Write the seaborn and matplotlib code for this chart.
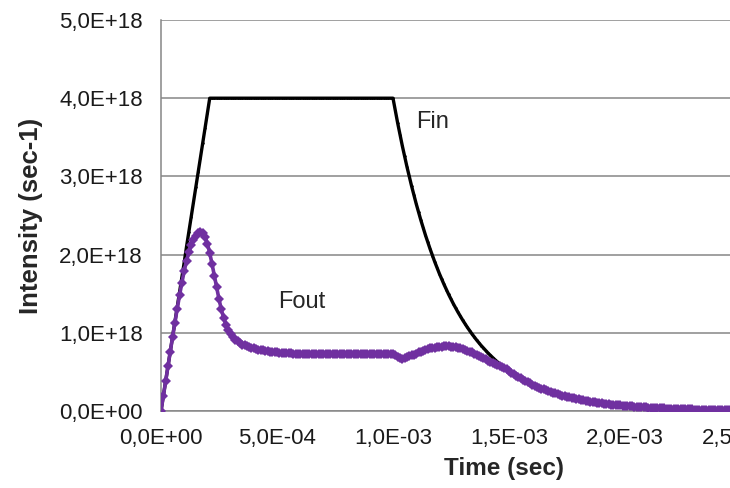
import numpy as np
import pandas as pd
import matplotlib
matplotlib.use("Agg")
import matplotlib.pyplot as plt
from matplotlib.ticker import FuncFormatter
import seaborn as sns

# ---------------- data (intensity in units of 1E18 sec-1) ----------------
time_step = 1e-5  # sec, regular sampling grid

fin = [
    0.00, 0.19, 0.38, 0.57, 0.76, 0.95, 1.14, 1.33, 1.52, 1.71,
    1.90, 2.10, 2.29, 2.48, 2.67, 2.86, 3.05, 3.24, 3.43, 3.62,
    3.81, 4.00, 4.00, 4.00, 4.00, 4.00, 4.00, 4.00, 4.00, 4.00,
    4.00, 4.00, 4.00, 4.00, 4.00, 4.00, 4.00, 4.00, 4.00, 4.00,
    4.00, 4.00, 4.00, 4.00, 4.00, 4.00, 4.00, 4.00, 4.00, 4.00,
    4.00, 4.00, 4.00, 4.00, 4.00, 4.00, 4.00, 4.00, 4.00, 4.00,
    4.00, 4.00, 4.00, 4.00, 4.00, 4.00, 4.00, 4.00, 4.00, 4.00,
    4.00, 4.00, 4.00, 4.00, 4.00, 4.00, 4.00, 4.00, 4.00, 4.00,
    4.00, 4.00, 4.00, 4.00, 4.00, 4.00, 4.00, 4.00, 4.00, 4.00,
    4.00, 4.00, 4.00, 4.00, 4.00, 4.00, 4.00, 4.00, 4.00, 4.00,
    4.000,
    3.839, 3.684, 3.535, 3.393, 3.256, 3.125, 2.999, 2.878, 2.762, 2.650,
    2.544, 2.441, 2.343, 2.248, 2.158, 2.071, 1.987, 1.907, 1.830, 1.756,
    1.686, 1.618, 1.553, 1.490, 1.430, 1.372, 1.317, 1.264, 1.213, 1.164,
    1.117, 1.072, 1.029, 0.987, 0.947, 0.909, 0.873, 0.837, 0.804, 0.771,
    0.740, 0.710, 0.682, 0.654, 0.628, 0.602, 0.578, 0.555, 0.532, 0.511,
    0.490, 0.470, 0.451, 0.433, 0.416, 0.399, 0.383, 0.367, 0.352, 0.338,
    0.325, 0.312, 0.299, 0.287, 0.275, 0.264, 0.254, 0.243, 0.234, 0.224,
    0.215, 0.206, 0.198, 0.190, 0.182, 0.175, 0.168, 0.161, 0.155, 0.149,
    0.143, 0.137, 0.131, 0.126, 0.121, 0.116, 0.111, 0.107, 0.102, 0.098,
    0.094, 0.091, 0.087, 0.083, 0.080, 0.077, 0.074, 0.071, 0.068, 0.065,
    0.063, 0.060, 0.058, 0.055, 0.053, 0.051, 0.049, 0.047, 0.045, 0.043,
    0.041, 0.040, 0.038, 0.037, 0.035, 0.034, 0.032, 0.031, 0.030, 0.029,
    0.027, 0.026, 0.025, 0.024, 0.023, 0.022, 0.021, 0.021, 0.020, 0.019,
    0.018, 0.017, 0.017, 0.016, 0.015, 0.015, 0.014, 0.013, 0.013, 0.012,
    0.012, 0.011, 0.011, 0.010, 0.010, 0.009, 0.009, 0.009, 0.008, 0.008,
]

fout_head = [
    0.00, 0.19, 0.38, 0.57, 0.76, 0.95, 1.13, 1.31, 1.48, 1.64,
    1.79, 1.92, 2.03, 2.12, 2.19, 2.24, 2.27, 2.29, 2.28, 2.23,
    2.14, 2.02, 1.88, 1.73, 1.58, 1.43, 1.30, 1.19, 1.10, 1.03,
    0.98, 0.94, 0.91, 0.89, 0.87, 0.85, 0.84, 0.83, 0.82, 0.81,
    0.80, 0.79, 0.785, 0.78, 0.775, 0.77, 0.765, 0.76, 0.755, 0.75,
    0.75, 0.745, 0.745, 0.74, 0.74, 0.74, 0.74, 0.735, 0.735, 0.735,
    0.735, 0.735, 0.735, 0.735, 0.735, 0.735, 0.735, 0.735, 0.735, 0.735,
    0.73, 0.73, 0.73, 0.73, 0.73, 0.73, 0.73, 0.73, 0.73, 0.73,
    0.73, 0.73, 0.73, 0.73, 0.73, 0.73, 0.73, 0.73, 0.73, 0.73,
    0.73, 0.73, 0.73, 0.73, 0.73, 0.73, 0.73, 0.73, 0.73, 0.73,
    0.73, 0.71, 0.69, 0.675, 0.67, 0.675, 0.69, 0.70, 0.71, 0.72,
    0.735, 0.75, 0.76, 0.77, 0.78, 0.79, 0.80, 0.805, 0.81, 0.815,
    0.82, 0.82, 0.825, 0.825, 0.825, 0.82, 0.82, 0.815, 0.81, 0.80,
    0.79, 0.78, 0.77, 0.76, 0.75, 0.735, 0.72, 0.705, 0.69, 0.675,
    0.66, 0.645, 0.63, 0.615, 0.60, 0.59, 0.575, 0.56, 0.545, 0.532,
]
# after merging, Fout follows Fin
fout = fout_head + fin[len(fout_head):]

time = [i * time_step for i in range(len(fin))]
unit = 1e18

x_ticks = [0.0, 5e-4, 1e-3, 1.5e-3, 2e-3, 2.5e-3]
y_ticks = [0.0, 1e18, 2e18, 3e18, 4e18, 5e18]

df = pd.DataFrame({
    "time": time,
    "Fin": np.array(fin) * unit,
    "Fout": np.array(fout) * unit,
})

# ---------------- styling ----------------
sns.set_style("white")
plt.rcParams["font.family"] = ["Liberation Sans", "DejaVu Sans"]

fig = plt.figure(figsize=(7.30, 4.88), dpi=100)
W, H = 730, 488
x0_px, x_per = 161, 232000.0   # pixel of t=0, pixels per second
y0_px, y_top_px = 411, 20
x_max = 2.96e-3
ax = fig.add_axes([x0_px / W, (H - y0_px) / H,
                   (x_max * x_per) / W, (y0_px - y_top_px) / H])

grid_col = "#868686"
purple = "#7030A0"

sns.lineplot(data=df, x="time", y="Fin", ax=ax, color="black", lw=2.4,
             marker="o", markersize=1.8, markeredgewidth=0, sort=False,
             estimator=None, zorder=3)
sns.lineplot(data=df, x="time", y="Fout", ax=ax, color=purple, lw=2.6,
             marker="D", markersize=5.2, markeredgewidth=0, sort=False,
             estimator=None, zorder=4)

ax.set_xlim(0, x_max)
ax.set_ylim(0, 5e18)
ax.set_xticks(x_ticks)
ax.set_yticks(y_ticks)

def sci_comma(v, pos=None):
    return "{:.1E}".format(v).replace(".", ",")

ax.xaxis.set_major_formatter(FuncFormatter(sci_comma))
ax.yaxis.set_major_formatter(FuncFormatter(sci_comma))

ax.yaxis.grid(True, color=grid_col, lw=1.1, zorder=0)
ax.xaxis.grid(False)
ax.set_axisbelow(True)
for s in ["top", "right"]:
    ax.spines[s].set_visible(False)
for s in ["left", "bottom"]:
    ax.spines[s].set_color(grid_col)
    ax.spines[s].set_linewidth(1.1)

ax.tick_params(axis="both", which="major", direction="out", length=5,
               width=1.1, color=grid_col, labelsize=16, labelcolor="#1a1a1a")
ax.tick_params(axis="y", pad=8)
ax.tick_params(axis="x", pad=7)

ax.set_xlabel("Time (sec)", fontsize=17.5, fontweight="bold", labelpad=6)
ax.set_ylabel("Intensity (sec-1)", fontsize=18.5, fontweight="bold", labelpad=12)

ax.text(1.172e-3, 3.70e18, "Fin", fontsize=17, ha="center", va="center")
ax.text(0.608e-3, 1.39e18, "Fout", fontsize=17, ha="center", va="center")

fig.savefig("out.png", dpi=100)
